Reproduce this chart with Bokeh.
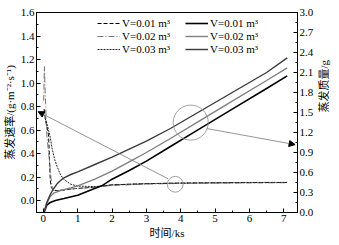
import math
from bokeh.plotting import figure
from bokeh.models import (Range1d, LinearAxis, FixedTicker, PrintfTickFormatter,
                          Legend, LegendItem, Arrow, NormalHead)
from bokeh.embed import file_html
from bokeh.resources import INLINE

# ---------------- data ----------------
labels = ["V=0.01 m³", "V=0.02 m³", "V=0.03 m³"]

# evaporation rate (left axis), g·m^-2·s^-1
t_rate1 = [0.02, 0.06, 0.1, 0.15, 0.18, 0.2, 0.23, 0.3, 0.45, 0.6, 0.8, 1.0, 1.5, 2.0, 3.0, 4.0, 5.0, 6.0, 7.1]
rate1 = [0.78, 0.69, 0.63, 0.56, 0.35, 0.18, 0.11, 0.09, 0.085, 0.09, 0.10, 0.105, 0.115, 0.135, 0.145, 0.15, 0.152, 0.154, 0.155]

t_rate2 = [0.01, 0.03, 0.05, 0.08, 0.1, 0.14, 0.18, 0.22, 0.27, 0.35, 0.5, 0.8, 1.0, 1.5, 2.0, 3.0, 4.0, 5.0, 6.0, 7.1]
rate2 = [0.85, 1.14, 0.95, 0.72, 0.56, 0.44, 0.33, 0.2, 0.09, 0.085, 0.09, 0.10, 0.105, 0.115, 0.13, 0.142, 0.147, 0.15, 0.152, 0.153]

t_rate3 = [0.05, 0.1, 0.15, 0.2, 0.25, 0.33, 0.4, 0.5, 0.6, 0.8, 1.0, 1.5, 2.0, 3.0, 4.0, 5.0, 6.0, 7.1]
rate3 = [0.70, 0.66, 0.60, 0.54, 0.45, 0.35, 0.29, 0.22, 0.18, 0.14, 0.125, 0.12, 0.135, 0.145, 0.15, 0.153, 0.155, 0.156]

# evaporation mass (right axis), g
t_mass1 = [0.02, 0.1, 0.2, 0.35, 0.6, 1.0, 1.4, 1.7, 2.0, 2.5, 3.0, 3.7, 4.5, 5.5, 6.5, 7.1]
mass1 = [0.0, 0.11, 0.15, 0.18, 0.21, 0.26, 0.34, 0.40, 0.50, 0.63, 0.77, 0.99, 1.24, 1.55, 1.86, 2.05]

t_mass2 = [0.02, 0.1, 0.2, 0.3, 0.5, 0.8, 1.0, 1.5, 2.0, 2.5, 3.0, 3.7, 4.5, 5.5, 6.5, 7.1]
mass2 = [0.0, 0.14, 0.24, 0.29, 0.33, 0.37, 0.40, 0.50, 0.62, 0.76, 0.90, 1.11, 1.36, 1.67, 1.98, 2.17]

t_mass3 = [0.02, 0.1, 0.2, 0.3, 0.4, 0.5, 0.6, 0.8, 1.0, 1.5, 2.0, 3.0, 3.7, 4.5, 5.5, 6.5, 7.1]
mass3 = [0.0, 0.15, 0.27, 0.36, 0.43, 0.48, 0.52, 0.57, 0.61, 0.72, 0.83, 1.07, 1.26, 1.50, 1.80, 2.10, 2.32]

x_ticks = [0, 1, 2, 3, 4, 5, 6, 7]
left_ticks = [0.0, 0.2, 0.4, 0.6, 0.8, 1.0, 1.2, 1.4, 1.6]
right_ticks = [0.0, 0.3, 0.6, 0.9, 1.2, 1.5, 1.8, 2.1, 2.4, 2.7, 3.0]

# annotations (data units, left axis)
big_circle = (4.29, 0.664)
small_circle = (3.84, 0.14)
arrow_mass = (4.77, 0.613, 7.33, 0.477)
arrow_rate = (3.63, 0.187, -0.15, 0.757)

FONT = "Liberation Serif, Noto Sans CJK SC"

p = figure(width=339, height=245, x_range=Range1d(-0.2, 7.4), y_range=Range1d(-0.1, 1.6),
           output_backend="svg", toolbar_location=None,
           min_border_left=36, min_border_right=42, min_border_top=12, min_border_bottom=33)
p.extra_y_ranges = {"mass": Range1d(0.0, 3.0)}
p.xgrid.visible = False
p.ygrid.visible = False
p.outline_line_color = "black"
p.outline_line_width = 1
p.background_fill_color = "white"
p.border_fill_color = "white"

right_axis = LinearAxis(y_range_name="mass")
p.add_layout(right_axis, "right")

def style_axis(ax):
    ax.major_tick_in = 4
    ax.major_tick_out = 0
    ax.minor_tick_in = 2
    ax.minor_tick_out = 0
    ax.axis_line_color = "black"
    ax.major_tick_line_color = "black"
    ax.minor_tick_line_color = "black"
    ax.major_label_text_font = FONT
    ax.major_label_text_font_size = "11px"
    ax.major_label_text_color = "black"
    ax.axis_label_text_font = FONT
    ax.axis_label_text_font_size = "11px"
    ax.axis_label_text_font_style = "normal"
    ax.axis_label_text_color = "black"
    ax.major_label_standoff = 2

xa = p.xaxis[0]
style_axis(xa)
xa.ticker = FixedTicker(ticks=x_ticks, minor_ticks=[i * 0.5 for i in range(0, 15)])
xa.formatter = PrintfTickFormatter(format="%d")
xa.axis_label = "时间/ks"
xa.axis_label_standoff = 2

ya = p.yaxis[0]
style_axis(ya)
ya.ticker = FixedTicker(ticks=left_ticks, minor_ticks=[-0.1 + i * 0.1 for i in range(0, 18)])
ya.formatter = PrintfTickFormatter(format="%.1f")
ya.axis_label = "蒸发速率/(g·m⁻²·s⁻¹)"
ya.axis_label_standoff = 2

style_axis(right_axis)
right_axis.ticker = FixedTicker(ticks=right_ticks, minor_ticks=[i * 0.15 for i in range(0, 21)])
right_axis.formatter = PrintfTickFormatter(format="%.1f")
right_axis.axis_label = "蒸发质量/g"
right_axis.axis_label_standoff = 8
right_axis.axis_label_orientation = math.pi / 2

# rate curves
r1 = p.line(t_rate1, rate1, line_color="black", line_width=1, line_dash="4 2")
r2 = p.line(t_rate2, rate2, line_color="#777777", line_width=1, line_dash="6 2 1 2")
r3 = p.line(t_rate3, rate3, line_color="#222222", line_width=1, line_dash="2 1")

# mass curves
m1 = p.line(t_mass1, mass1, line_color="black", line_width=1.6, y_range_name="mass")
m2 = p.line(t_mass2, mass2, line_color="#808080", line_width=1.4, y_range_name="mass")
m3 = p.line(t_mass3, mass3, line_color="#3a3a3a", line_width=1.4, y_range_name="mass")

# annotation circles
p.circle(x=[big_circle[0]], y=[big_circle[1]], radius=0.51, fill_color=None,
         line_color="#8a8a8a", line_width=0.8)
p.circle(x=[small_circle[0]], y=[small_circle[1]], radius=0.23, fill_color=None,
         line_color="#8a8a8a", line_width=0.8)

for a in (arrow_mass, arrow_rate):
    p.add_layout(Arrow(x_start=a[0], y_start=a[1], x_end=a[2], y_end=a[3],
                       line_color="#7a7a7a", line_width=0.8,
                       end=NormalHead(size=6, fill_color="black", line_color="black")))

def make_legend(rends, x):
    lg = Legend(items=[LegendItem(label=l, renderers=[r]) for l, r in zip(labels, rends)],
                location=(x, 157))
    lg.label_text_font = FONT
    lg.label_text_font_size = "11px"
    lg.label_text_color = "black"
    lg.glyph_width = 23
    lg.glyph_height = 12
    lg.label_height = 12
    lg.label_standoff = 2
    lg.spacing = 1
    lg.padding = 0
    lg.margin = 0
    lg.border_line_color = None
    lg.background_fill_alpha = 0
    return lg

p.add_layout(make_legend([r1, r2, r3], 61), "center")
p.add_layout(make_legend([m1, m2, m3], 149), "center")

open("out.html", "w").write(file_html(p, INLINE))
